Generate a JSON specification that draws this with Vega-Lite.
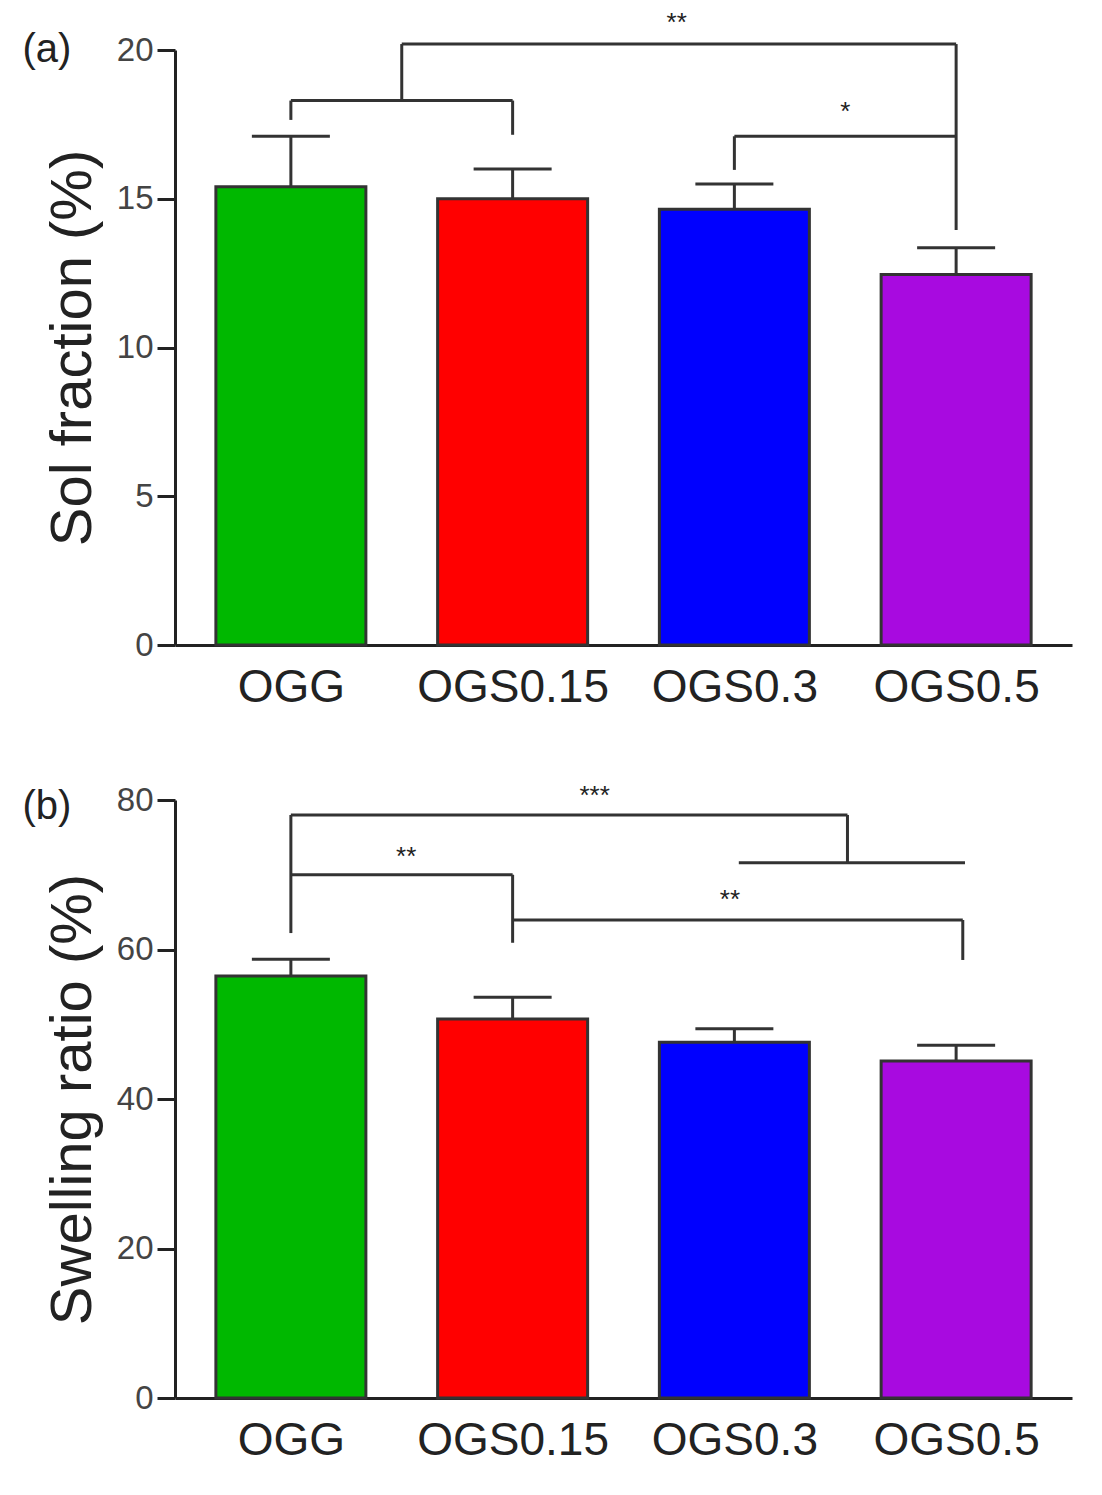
{
  "$schema": "https://vega.github.io/schema/vega-lite/v6.json",
  "padding": {"left": 22, "top": 10, "right": 5, "bottom": 0},
  "spacing": 72,
  "config": {
    "font": "Liberation Sans",
    "view": {"stroke": null},
    "axis": {"domainColor": "#222", "domainWidth": 3, "tickColor": "#222", "tickWidth": 3, "grid": false}
  },
  "datasets": {
    "sol": [
      {"i": 0, "group": "OGG", "value": 15.4, "err": 17.1},
      {"i": 1, "group": "OGS0.15", "value": 15.0, "err": 16.0},
      {"i": 2, "group": "OGS0.3", "value": 14.65, "err": 15.5},
      {"i": 3, "group": "OGS0.5", "value": 12.45, "err": 13.35}
    ],
    "swell": [
      {"i": 0, "group": "OGG", "value": 56.45, "err": 58.7},
      {"i": 1, "group": "OGS0.15", "value": 50.7, "err": 53.6},
      {"i": 2, "group": "OGS0.3", "value": 47.6, "err": 49.4},
      {"i": 3, "group": "OGS0.5", "value": 45.1, "err": 47.2}
    ],
    "solBr": [
      {"x": 0, "x2": 1, "y": 18.3, "y2": 18.3},
      {"x": 0, "x2": 0, "y": 18.3, "y2": 17.65},
      {"x": 1, "x2": 1, "y": 18.3, "y2": 17.15},
      {"x": 0.5, "x2": 0.5, "y": 18.3, "y2": 20.2},
      {"x": 0.5, "x2": 3, "y": 20.2, "y2": 20.2},
      {"x": 3, "x2": 3, "y": 20.2, "y2": 13.95},
      {"x": 2, "x2": 3, "y": 17.1, "y2": 17.1},
      {"x": 2, "x2": 2, "y": 17.1, "y2": 15.97}
    ],
    "solTxt": [
      {"x": 1.74, "y": 20.9, "t": "**", "s": 26},
      {"x": 2.5, "y": 17.9, "t": "*", "s": 26},
      {"x": -1.1, "y": 20.0, "t": "(a)", "s": 40}
    ],
    "swBr": [
      {"x": 0, "x2": 2.51, "y": 78, "y2": 78},
      {"x": 0, "x2": 0, "y": 78, "y2": 62.2},
      {"x": 0, "x2": 1, "y": 70, "y2": 70},
      {"x": 1, "x2": 1, "y": 70, "y2": 60.9},
      {"x": 1, "x2": 3.03, "y": 63.95, "y2": 63.95},
      {"x": 3.03, "x2": 3.03, "y": 63.95, "y2": 58.6},
      {"x": 2.51, "x2": 2.51, "y": 78, "y2": 71.6},
      {"x": 2.02, "x2": 3.04, "y": 71.6, "y2": 71.6}
    ],
    "swTxt": [
      {"x": 1.37, "y": 80.6, "t": "***", "s": 26},
      {"x": 0.52, "y": 72.4, "t": "**", "s": 26},
      {"x": 1.98, "y": 66.6, "t": "**", "s": 26},
      {"x": -1.1, "y": 79.0, "t": "(b)", "s": 40}
    ]
  },
  "vconcat": [
    {
      "width": 897,
      "height": 595,
      "layer": [
        {
          "data": {"name": "sol"},
          "mark": {"type": "bar", "width": 150, "stroke": "#333", "strokeWidth": 3},
          "encoding": {
            "x": {"field": "i", "type": "quantitative", "scale": {"domain": [-0.5, 3.5], "nice": false},
              "axis": {"values": [0, 1, 2, 3], "ticks": false, "labelFontSize": 46, "labelColor": "#222", "labelPadding": 20, "labelLimit": 0, "title": null,
                "labelExpr": "['OGG','OGS0.15','OGS0.3','OGS0.5'][datum.value]"}},
            "y": {"field": "value", "type": "quantitative", "scale": {"domain": [0, 20], "nice": false},
              "axis": {"values": [0, 5, 10, 15, 20], "labelFontSize": 33, "labelColor": "#444", "tickSize": 18, "labelPadding": 4,
                "title": "Sol fraction (%)", "titleFontSize": 58, "titleFontWeight": "normal", "titleColor": "#222", "titlePadding": 14}},
            "color": {"field": "group", "type": "nominal", "legend": null,
              "scale": {"domain": ["OGG", "OGS0.15", "OGS0.3", "OGS0.5"], "range": ["#00b800", "#ff0000", "#0000ff", "#a80ae0"]}}
          }
        },
        {
          "data": {"name": "sol"},
          "mark": {"type": "rule", "strokeWidth": 3, "color": "#333"},
          "encoding": {"x": {"field": "i", "type": "quantitative"}, "y": {"field": "value", "type": "quantitative"}, "y2": {"field": "err"}}
        },
        {
          "data": {"name": "sol"},
          "mark": {"type": "tick", "orient": "horizontal", "size": 78, "thickness": 3, "color": "#333", "opacity": 1},
          "encoding": {"x": {"field": "i", "type": "quantitative"}, "y": {"field": "err", "type": "quantitative"}}
        },
        {
          "data": {"name": "solBr"},
          "mark": {"type": "rule", "strokeWidth": 3, "color": "#333"},
          "encoding": {"x": {"field": "x", "type": "quantitative"}, "x2": {"field": "x2"}, "y": {"field": "y", "type": "quantitative"}, "y2": {"field": "y2"}}
        },
        {
          "data": {"name": "solTxt"},
          "mark": {"type": "text", "color": "#222", "baseline": "middle"},
          "encoding": {"x": {"field": "x", "type": "quantitative"}, "y": {"field": "y", "type": "quantitative"}, "text": {"field": "t"}, "size": {"field": "s", "type": "quantitative", "scale": null}}
        }
      ]
    },
    {
      "width": 897,
      "height": 598,
      "layer": [
        {
          "data": {"name": "swell"},
          "mark": {"type": "bar", "width": 150, "stroke": "#333", "strokeWidth": 3},
          "encoding": {
            "x": {"field": "i", "type": "quantitative", "scale": {"domain": [-0.5, 3.5], "nice": false},
              "axis": {"values": [0, 1, 2, 3], "ticks": false, "labelFontSize": 46, "labelColor": "#222", "labelPadding": 20, "labelLimit": 0, "title": null,
                "labelExpr": "['OGG','OGS0.15','OGS0.3','OGS0.5'][datum.value]"}},
            "y": {"field": "value", "type": "quantitative", "scale": {"domain": [0, 80], "nice": false},
              "axis": {"values": [0, 20, 40, 60, 80], "labelFontSize": 33, "labelColor": "#444", "tickSize": 18, "labelPadding": 4,
                "title": "Swelling ratio (%)", "titleFontSize": 58, "titleFontWeight": "normal", "titleColor": "#222", "titlePadding": 14}},
            "color": {"field": "group", "type": "nominal", "legend": null,
              "scale": {"domain": ["OGG", "OGS0.15", "OGS0.3", "OGS0.5"], "range": ["#00b800", "#ff0000", "#0000ff", "#a80ae0"]}}
          }
        },
        {
          "data": {"name": "swell"},
          "mark": {"type": "rule", "strokeWidth": 3, "color": "#333"},
          "encoding": {"x": {"field": "i", "type": "quantitative"}, "y": {"field": "value", "type": "quantitative"}, "y2": {"field": "err"}}
        },
        {
          "data": {"name": "swell"},
          "mark": {"type": "tick", "orient": "horizontal", "size": 78, "thickness": 3, "color": "#333", "opacity": 1},
          "encoding": {"x": {"field": "i", "type": "quantitative"}, "y": {"field": "err", "type": "quantitative"}}
        },
        {
          "data": {"name": "swBr"},
          "mark": {"type": "rule", "strokeWidth": 3, "color": "#333"},
          "encoding": {"x": {"field": "x", "type": "quantitative"}, "x2": {"field": "x2"}, "y": {"field": "y", "type": "quantitative"}, "y2": {"field": "y2"}}
        },
        {
          "data": {"name": "swTxt"},
          "mark": {"type": "text", "color": "#222", "baseline": "middle"},
          "encoding": {"x": {"field": "x", "type": "quantitative"}, "y": {"field": "y", "type": "quantitative"}, "text": {"field": "t"}, "size": {"field": "s", "type": "quantitative", "scale": null}}
        }
      ]
    }
  ]
}
